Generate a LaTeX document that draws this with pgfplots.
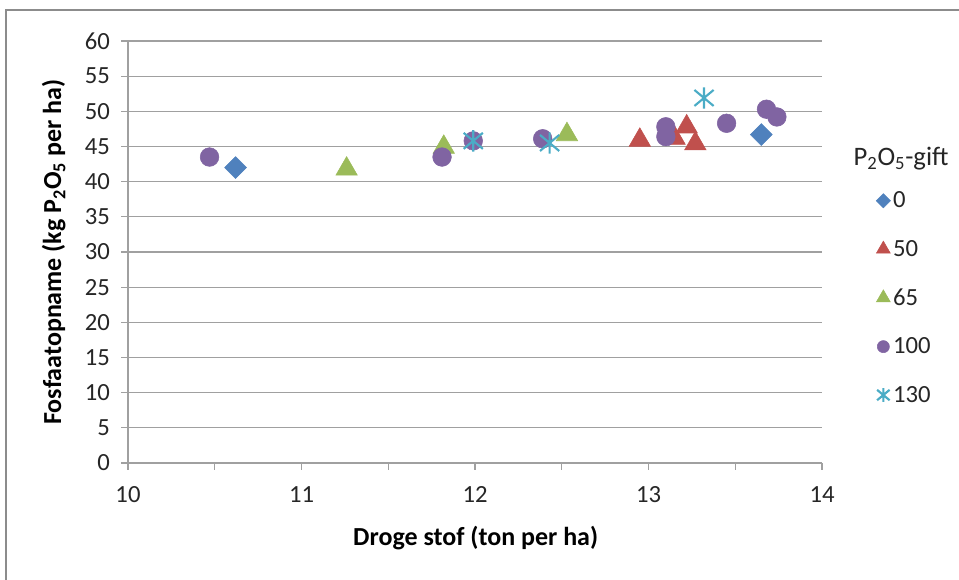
\documentclass[border=0pt]{standalone}
\usepackage{pgfplots}
\pgfplotsset{compat=1.18}
\usepackage{fontspec}
\setmainfont{Carlito}
\definecolor{c0}{HTML}{4F81BD}
\definecolor{c50}{HTML}{C0504D}
\definecolor{c65}{HTML}{9BBB59}
\definecolor{c100}{HTML}{8064A2}
\definecolor{c130}{HTML}{4BACC6}
\definecolor{gridc}{HTML}{A0A0A0}
\pgfdeclareplotmark{xstar}{%
  \pgfpathmoveto{\pgfqpoint{0pt}{\pgfplotmarksize}}%
  \pgfpathlineto{\pgfqpoint{0pt}{-\pgfplotmarksize}}%
  \pgfpathmoveto{\pgfqpoint{-0.9\pgfplotmarksize}{0.75\pgfplotmarksize}}%
  \pgfpathlineto{\pgfqpoint{0.9\pgfplotmarksize}{-0.75\pgfplotmarksize}}%
  \pgfpathmoveto{\pgfqpoint{-0.9\pgfplotmarksize}{-0.75\pgfplotmarksize}}%
  \pgfpathlineto{\pgfqpoint{0.9\pgfplotmarksize}{0.75\pgfplotmarksize}}%
  \pgfusepathqstroke}
\newcommand{\tf}{\fontsize{18.5}{22}\selectfont}
\newcommand{\lf}{\fontsize{19.5}{23}\selectfont}
\begin{document}
\begin{tikzpicture}[x=0.75pt,y=0.75pt]
\useasboundingbox (0,0) rectangle (959,580);
\draw[gray!90,line width=1.5pt] (6,-5) -- (6,570) -- (965,570);
\begin{axis}[
  at={(96pt,87.75pt)}, anchor=south west,
  scale only axis, width=520.5pt, height=316.5pt,
  xmin=10, xmax=14, ymin=0, ymax=60,
  xtick={10,11,12,13,14}, ytick={0,5,...,60},
  minor x tick num=1,
  axis x line*=bottom, axis y line*=left,
  axis line style={gridc, line width=0.8pt, -},
  ymajorgrids, major grid style={gridc, line width=0.8pt},
  tick style={gridc, line width=0.8pt},
  major tick length=5pt, minor tick length=5pt,
  tick align=outside,
  every tick label/.append style={font=\tf, text=black!85},
  /pgf/number format/assume math mode=true,
  xticklabel style={yshift=-9pt},
  yticklabel style={xshift=-5pt},
  xlabel={\bfseries Droge stof (ton per ha)},
  ylabel={\bfseries Fosfaatopname (kg P\textsubscript{2}O\textsubscript{5} per ha)},
  xlabel style={at={(axis description cs:0.501,-0.178)}, anchor=center, font=\lf},
  ylabel style={at={(axis description cs:-0.107,0.5)}, anchor=center, rotate=0, font=\lf},
  clip=false,
  legend style={at={(axis description cs:1.072,0.656)}, anchor=north west, draw=none, fill=none,
    font=\tf, row sep=18.8pt, text=black!85,
    /tikz/every even column/.append style={column sep=0pt}},
  legend cell align=left,
  legend image post style={scale=0.65},
  legend image code/.code={\draw[#1] plot coordinates {(0.1cm,0cm)};},
]
\addplot[only marks, mark=square*, mark size=5.8pt, mark options={rotate=45, fill=c0, draw=c0}] coordinates {
(10.62,42.0) (13.65,46.7)};
\addlegendentry{0}
\addplot[only marks, mark=triangle*, mark size=9.3pt, mark options={fill=c50, draw=c50}] coordinates {
(12.95,45.9) (13.22,47.8) (13.15,46.2) (13.27,45.4)};
\addlegendentry{50}
\addplot[only marks, mark=triangle*, mark size=9.3pt, mark options={fill=c65, draw=c65}] coordinates {
(11.26,41.8) (11.82,44.9) (12.53,46.7)};
\addlegendentry{65}
\addplot[only marks, mark=*, mark size=7pt, mark options={fill=c100, draw=c100}] coordinates {
(10.47,43.5) (11.81,43.5) (11.99,45.8) (12.39,46.1) (13.10,47.8) (13.10,46.4) (13.45,48.3) (13.68,50.3) (13.74,49.2)};
\addlegendentry{100}
\addplot[only marks, mark=xstar, mark size=8pt, mark options={draw=c130, line width=1.6pt}] coordinates {
(11.99,45.8) (12.43,45.5) (13.32,51.9)};
\addlegendentry{130}
\node[font=\fontsize{20}{24}\selectfont, text=black!85] at (axis description cs:1.114,0.721) {P\textsubscript{2}O\textsubscript{5}-gift};
\end{axis}
\end{tikzpicture}
\end{document}
